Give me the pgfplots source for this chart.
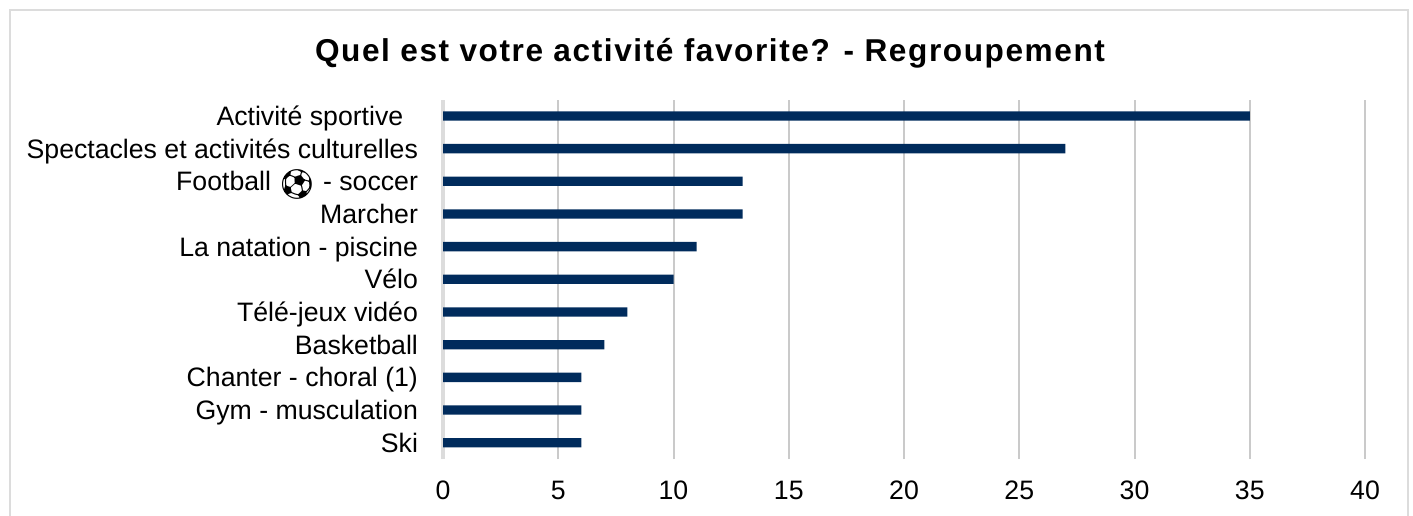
\documentclass[border=0pt]{standalone}
\usepackage{pgfplots}
\pgfplotsset{compat=1.18}
\usepackage{fontspec}
\setmainfont{Liberation Sans}
\newfontfamily\emojifont{Noto Emoji}
\newfontfamily\titlefont[LetterSpace=5]{Liberation Sans}
\definecolor{barblue}{HTML}{002B5C}
\definecolor{gridgray}{HTML}{CACACA}
\definecolor{framegray}{HTML}{DCDCDC}
\begin{document}
\begin{tikzpicture}[x=0.75pt,y=-0.75pt]
  % page in image pixels, y pointing down
  \path[use as bounding box] (0,0) rectangle (1413,516);
  \draw[framegray,line width=1.5pt] (10,516) -- (10,10) -- (1408,10) -- (1408,516);
  \node[anchor=center] at (710,53) {\titlefont\fontsize{23.7}{28}\selectfont\bfseries Quel est votre activité favorite? - Regroupement};
  \begin{axis}[
    at={(332.25pt,-344.25pt)}, anchor=south west,
    scale only axis, width=691.5pt, height=269.5pt,
    xbar, bar width=7pt,
    xmin=0, xmax=40, ymin=-0.5, ymax=10.5,
    xtick={0,5,...,40}, ytick=data,
    yticklabels={Ski,Gym - musculation,{Chanter - choral (1)},Basketball,Télé-jeux vidéo,Vélo,La natation - piscine,Marcher,{Football \smash{\raisebox{-2.5pt}{\emojifont\fontsize{22}{22}\selectfont\char"26BD}} - soccer},Spectacles et activités culturelles,{Activité sportive\kern11pt\null}},
    xmajorgrids, major grid style={gridgray,line width=1.5pt},
    axis x line*=bottom, axis y line*=left,
    x axis line style={draw=none},
    y axis line style={framegray,line width=3pt,-},
    tick style={draw=none},
    ticklabel style={font=\fontsize{20}{24}\selectfont,text height=14.5pt,text depth=4pt},
    /pgf/number format/assume math mode=true,
    xticklabel style={yshift=-12pt},
    yticklabel style={xshift=-11pt,yshift=-1.8pt},
    clip=false,
  ]
  \addplot[fill=barblue,draw=none] coordinates {
    (6,0) (6,1) (6,2) (7,3) (8,4) (10,5) (11,6) (13,7) (13,8) (27,9) (35,10)};
  \end{axis}
\end{tikzpicture}
\end{document}
